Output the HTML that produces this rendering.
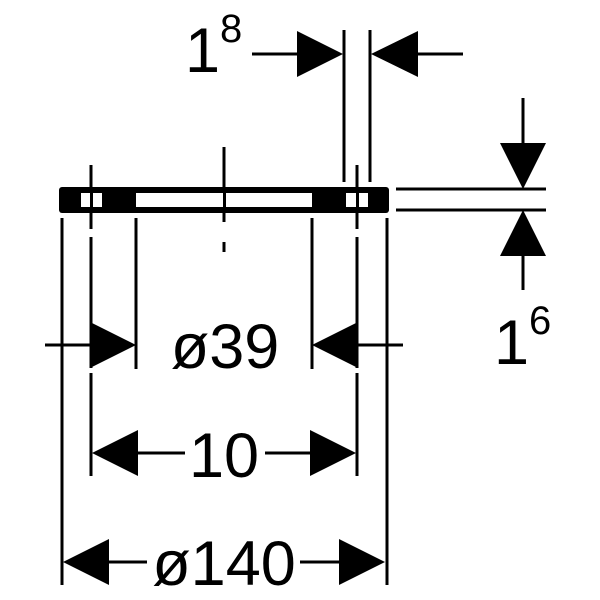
<!DOCTYPE html>
<html><head><style>html,body{margin:0;padding:0;background:#fff}svg{display:block}</style></head><body>
<svg width="600" height="600" viewBox="0 0 600 600" xmlns="http://www.w3.org/2000/svg" font-family="Liberation Sans, sans-serif">
<g stroke="#000" stroke-width="3" fill="none">
<!-- top extension lines -->
<line x1="344" y1="30" x2="344" y2="182"/>
<line x1="370" y1="30" x2="370" y2="182"/>
<line x1="252" y1="54" x2="300" y2="54"/>
<line x1="415" y1="54" x2="463" y2="54"/>
<!-- center line -->
<line x1="224" y1="147" x2="224" y2="222"/>
<line x1="224" y1="242" x2="224" y2="252"/>
<!-- dashed hole lines -->
<line x1="91" y1="165" x2="91" y2="229"/>
<line x1="357" y1="165" x2="357" y2="229"/>
<line x1="91" y1="237" x2="91" y2="368"/>
<line x1="357" y1="237" x2="357" y2="368"/>
<line x1="91" y1="373" x2="91" y2="476"/>
<line x1="357" y1="373" x2="357" y2="476"/>
<!-- outer/inner extension -->
<line x1="62" y1="218" x2="62" y2="585"/>
<line x1="387" y1="218" x2="387" y2="585"/>
<line x1="136" y1="218" x2="136" y2="369"/>
<line x1="312" y1="218" x2="312" y2="369"/>
<!-- thickness lines -->
<line x1="396" y1="189" x2="546" y2="189"/>
<line x1="396" y1="210" x2="546" y2="210"/>
<line x1="523" y1="98" x2="523" y2="146"/>
<line x1="523" y1="254" x2="523" y2="290"/>
<!-- dim lines -->
<line x1="45" y1="345" x2="94" y2="345"/>
<line x1="355" y1="345" x2="403" y2="345"/>
<line x1="135" y1="453" x2="185" y2="453"/>
<line x1="265" y1="453" x2="312" y2="453"/>
<line x1="105" y1="562" x2="147" y2="562"/>
<line x1="300" y1="562" x2="341" y2="562"/>
</g>
<g fill="#000">
<!-- plate -->
<rect x="59" y="187" width="330" height="26" rx="3"/>
<rect x="81" y="193" width="21" height="14" fill="#fff"/>
<rect x="136" y="193" width="176" height="14" fill="#fff"/>
<rect x="346" y="193" width="22" height="14" fill="#fff"/>
<rect x="223" y="187" width="3" height="26"/>
<rect x="90" y="187" width="3" height="26"/>
<rect x="356" y="187" width="3" height="26"/>
<!-- arrows -->
<polygon points="297,31 343,54 297,77"/>
<polygon points="418,31 371,54 418,77"/>
<polygon points="500,143 546,143 523,189"/>
<polygon points="500,256 546,256 523,210"/>
<polygon points="90,322 136,345 90,368"/>
<polygon points="358,322 312,345 358,368"/>
<polygon points="138,430 92,453 138,476"/>
<polygon points="310,430 356,453 310,476"/>
<polygon points="109,539 63,562 109,585"/>
<polygon points="339,539 385,562 339,585"/>
</g>
<g fill="#000" font-size="63">
<text x="185" y="72">1</text>
<text x="220" y="42" font-size="40">8</text>
<text x="494" y="364">1</text>
<text x="529" y="334" font-size="40">6</text>
<text x="225" y="368" text-anchor="middle">ø39</text>
<text x="224" y="477" text-anchor="middle">10</text>
<text x="224" y="585" text-anchor="middle">ø140</text>
</g>
</svg>
</body></html>
